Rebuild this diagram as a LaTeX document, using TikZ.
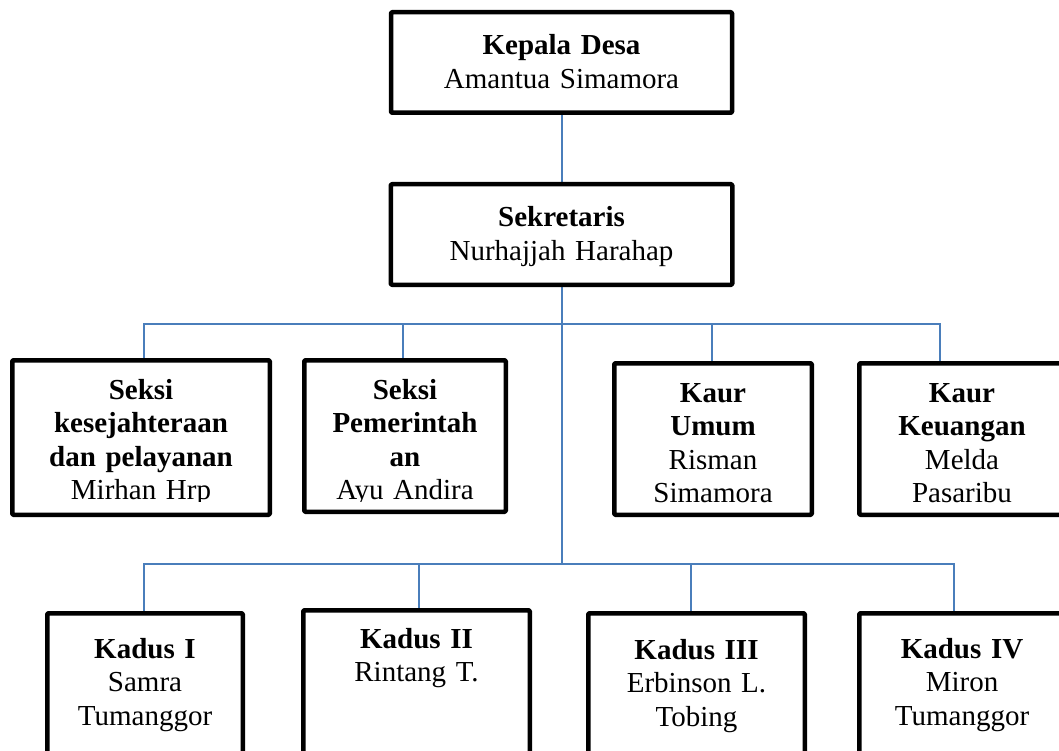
\documentclass[tikz,border=0pt]{standalone}
\usepackage{fontspec}
\setmainfont{Liberation Serif}
\pgfdeclarelayer{bg}
\pgfsetlayers{bg,main}
\definecolor{linkblue}{HTML}{4A7EBB}
\tikzset{
  orgbox/.style={rectangle, draw=black, line width=4.5pt, line join=round, rounded corners=1pt, fill=white, inner sep=0pt},
  orgtext/.style={anchor=base, align=center, inner sep=0pt, text width=250pt, font=\fontsize{29}{33.5}\selectfont},
  conn/.style={draw=linkblue, line width=2pt}
}
\begin{document}
\begin{tikzpicture}[x=1pt, y=-1pt]
\path[use as bounding box] (0,0) rectangle (1059,751);
\clip (0,0) rectangle (1059,751);

% boxes
\node[orgbox, minimum width=341pt,   minimum height=100.5pt] (kd)  at (561.5,62.5) {};
\node[orgbox, minimum width=341.5pt, minimum height=100.5pt] (sek) at (561.5,234.5) {};
\node[orgbox, minimum width=257.5pt, minimum height=154.5pt] (s1)  at (141,437.5) {};
\node[orgbox, minimum width=201.5pt, minimum height=151.5pt] (s2)  at (405,436) {};
\node[orgbox, minimum width=197.5pt, minimum height=151.5pt] (ku)  at (713,439) {};
\node[orgbox, minimum width=205.5pt, minimum height=151.5pt] (kk)  at (962,439) {};
\node[orgbox, minimum width=195.5pt, minimum height=174.5pt] (k1)  at (145,700.5) {};
\node[orgbox, minimum width=226.5pt, minimum height=177.5pt] (k2)  at (416.5,699) {};
\node[orgbox, minimum width=216.5pt, minimum height=174.5pt] (k3)  at (696.5,700.5) {};
\node[orgbox, minimum width=205.5pt, minimum height=174.5pt] (k4)  at (962,700.5) {};

% texts
\node[orgtext] (kdt)  at (561.5,55)  {\textbf{Kepala Desa}\\Amantua Simamora};
\node[orgtext] (sekt) at (561.5,227) {\textbf{Sekretaris}\\Nurhajjah Harahap};
\begin{scope}
  \clip (0,0) rectangle (560,501);
  \node[orgtext] (s1t) at (141,399) {\textbf{Seksi}\\\textbf{kesejahteraan}\\\textbf{dan pelayanan}\\Mirhan Hrp};
  \node[orgtext] (s2t) at (405,399) {\textbf{Seksi}\\\textbf{Pemerintah}\\\textbf{an}\\Ayu Andira};
\end{scope}
\node[orgtext] (kut) at (713,402) {\textbf{Kaur}\\\textbf{Umum}\\Risman\\Simamora};
\node[orgtext] (kkt) at (962,402) {\textbf{Kaur}\\\textbf{Keuangan}\\Melda\\Pasaribu};
\node[orgtext] (k1t) at (145,658)   {\textbf{Kadus I}\\Samra\\Tumanggor};
\node[orgtext] (k2t) at (416.5,648) {\textbf{Kadus II}\\Rintang T.};
\node[orgtext] (k3t) at (696.5,659) {\textbf{Kadus III}\\Erbinson L.\\Tobing};
\node[orgtext] (k4t) at (962,658)   {\textbf{Kadus IV}\\Miron\\Tumanggor};

% junction coordinates
\coordinate (j1) at (144,324);
\coordinate (j2) at (403,324);
\coordinate (j3) at (712,324);
\coordinate (j4) at (940,324);
\coordinate (m1) at (144,564);
\coordinate (m2) at (419,564);
\coordinate (m3) at (691,564);
\coordinate (m4) at (954,564);
\coordinate (hub) at (561.5,564);

\begin{pgfonlayer}{bg}
  \draw[conn] (kd.south) -- (sek.north);
  \draw[conn] (sek.south) -- (hub);
  \draw[conn] (j1 |- s1.north) -- (j1) -- (j4) -- (j4 |- kk.north);
  \draw[conn] (j2) -- (j2 |- s2.north);
  \draw[conn] (j3) -- (j3 |- ku.north);
  \draw[conn] (m1 |- k1.north) -- (m1) -- (m4) -- (m4 |- k4.north);
  \draw[conn] (m2) -- (m2 |- k2.north);
  \draw[conn] (m3) -- (m3 |- k3.north);
\end{pgfonlayer}
\end{tikzpicture}
\end{document}
